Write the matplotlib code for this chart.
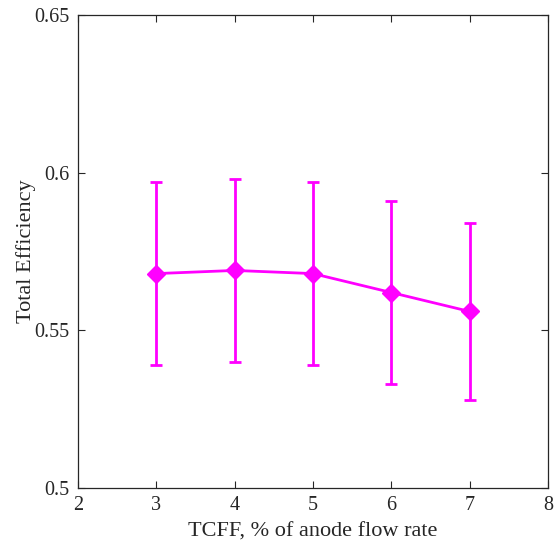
import matplotlib.pyplot as plt

plt.rcParams['font.family'] = ['Liberation Serif', 'DejaVu Serif']

tcff = [3, 4, 5, 6, 7]
efficiency = [0.568, 0.569, 0.568, 0.562, 0.556]
err_upper = [0.597, 0.598, 0.597, 0.591, 0.584]
err_lower = [0.539, 0.540, 0.539, 0.533, 0.528]

yerr = [[e - lo for e, lo in zip(efficiency, err_lower)],
        [hi - e for e, hi in zip(efficiency, err_upper)]]

fig = plt.figure(figsize=(5.59, 5.44), dpi=100)
ax = fig.add_axes([0.1395, 0.1029, 0.8405, 0.8695])

ax.errorbar(tcff, efficiency, yerr=yerr, color="#ff00ff", marker="D",
            markersize=9, linewidth=2, elinewidth=2, capsize=4,
            capthick=2)

ax.set_xlim(2, 8)
ax.set_ylim(0.5, 0.65)
ax.set_xticks([2, 3, 4, 5, 6, 7, 8])
ax.set_yticks([0.5, 0.55, 0.6, 0.65])
ax.set_yticklabels(["0.5", "0.55", "0.6", "0.65"])
ax.tick_params(direction="in", top=True, right=True, labelsize=14.5,
               length=5, width=0.8, colors="#262626", pad=6)
for s in ax.spines.values():
    s.set_color("#262626")
    s.set_linewidth(0.9)
ax.set_xlabel("TCFF, % of anode flow rate", fontsize=16, color="#262626",
              labelpad=5)
ax.set_ylabel("Total Efficiency", fontsize=16, color="#262626", labelpad=-1)

fig.savefig("out.png", dpi=100)
